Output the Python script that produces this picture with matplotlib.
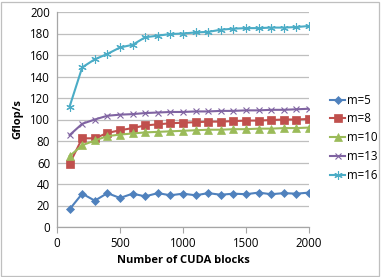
import matplotlib
matplotlib.use("Agg")
import matplotlib.pyplot as plt
from matplotlib.patches import Rectangle

# --- Data ---
blocks = [100, 200, 300, 400, 500, 600, 700, 800, 900, 1000,
          1100, 1200, 1300, 1400, 1500, 1600, 1700, 1800, 1900, 2000]
m5 = [16.5, 31, 24.5, 31.5, 27, 31, 28.5, 31.5, 29.5, 31,
      29.5, 31.5, 30, 31, 30.5, 32, 30.5, 31.5, 31, 32]
m8 = [59, 82.5, 82.5, 87.5, 90, 92, 94.5, 95.5, 96.5, 97,
      97.5, 98, 98, 98.5, 99, 99, 99.5, 100, 100, 100.5]
m10 = [66, 76, 80.5, 84.5, 86, 87, 88, 88.5, 89, 89.5,
       90, 90.5, 90.5, 91, 91, 91.5, 91.5, 92, 92, 92.5]
m13 = [85.5, 96, 100, 103.5, 104.5, 105, 106, 106.5, 107, 107,
       107.5, 107.5, 108, 108, 108.5, 108.5, 109, 109, 109.5, 110]
m16 = [112, 148.5, 156, 161, 167, 169.5, 176.5, 178, 179.5, 180,
       181, 181.5, 183.5, 184.5, 185, 185, 185.5, 185.5, 186, 187]

labels = ["m=5", "m=8", "m=10", "m=13", "m=16"]
series = [m5, m8, m10, m13, m16]
colors = ["#4F81BD", "#C0504D", "#9BBB59", "#8064A2", "#4BACC6"]
markers = ["D", "s", "^", "x", (6, 2, 0)]
msizes = [4.5, 5.5, 5.5, 5.0, 6.0]

plt.rcParams["font.family"] = ["Open Sans", "DejaVu Sans"]

fig = plt.figure(figsize=(3.87, 2.77), dpi=100)
ax = fig.add_axes([57 / 387, 1 - 227 / 277, 252 / 387, 215 / 277])

for lab, vals, c, mk, ms in zip(labels, series, colors, markers, msizes):
    thin = mk in ("x", (6, 2, 0))
    ax.plot(blocks, vals, color=c, marker=mk, markersize=ms, lw=1.5,
            markeredgewidth=0.8 if thin else 0.5,
            markeredgecolor=c, label=lab)

ax.set_xlim(0, 2000)
ax.set_ylim(0, 200)
ax.set_xticks([0, 500, 1000, 1500, 2000])
ax.set_yticks(range(0, 201, 20))
ax.grid(axis="y", color="#BFBFBF", lw=0.9)
ax.set_axisbelow(True)
for s in ("top", "right"):
    ax.spines[s].set_visible(False)
for s in ("left", "bottom"):
    ax.spines[s].set_color("#A6A6A6")
    ax.spines[s].set_linewidth(0.9)
ax.tick_params(axis="x", direction="out", length=4, color="#A6A6A6",
               labelsize=8.3, pad=3)
ax.tick_params(axis="y", length=0, labelsize=8.3, pad=5)
ax.set_xlabel("Number of CUDA blocks", fontsize=8, fontweight="bold", labelpad=4)
ax.set_ylabel("Gflop/s", fontsize=8, fontweight="bold", labelpad=5)

ax.legend(loc="upper left", bbox_to_anchor=(1.085, 0.62), frameon=False,
          fontsize=8.3, handlelength=1.3, handletextpad=0.15,
          labelspacing=0.5, borderaxespad=0, borderpad=0)

# chart border
fig.patches.append(Rectangle((1 / 387, 1 / 277), 378 / 387, 274 / 277,
                             transform=fig.transFigure, fill=False,
                             edgecolor="#BFBFBF", lw=0.9))

fig.savefig("out.png", dpi=100)
